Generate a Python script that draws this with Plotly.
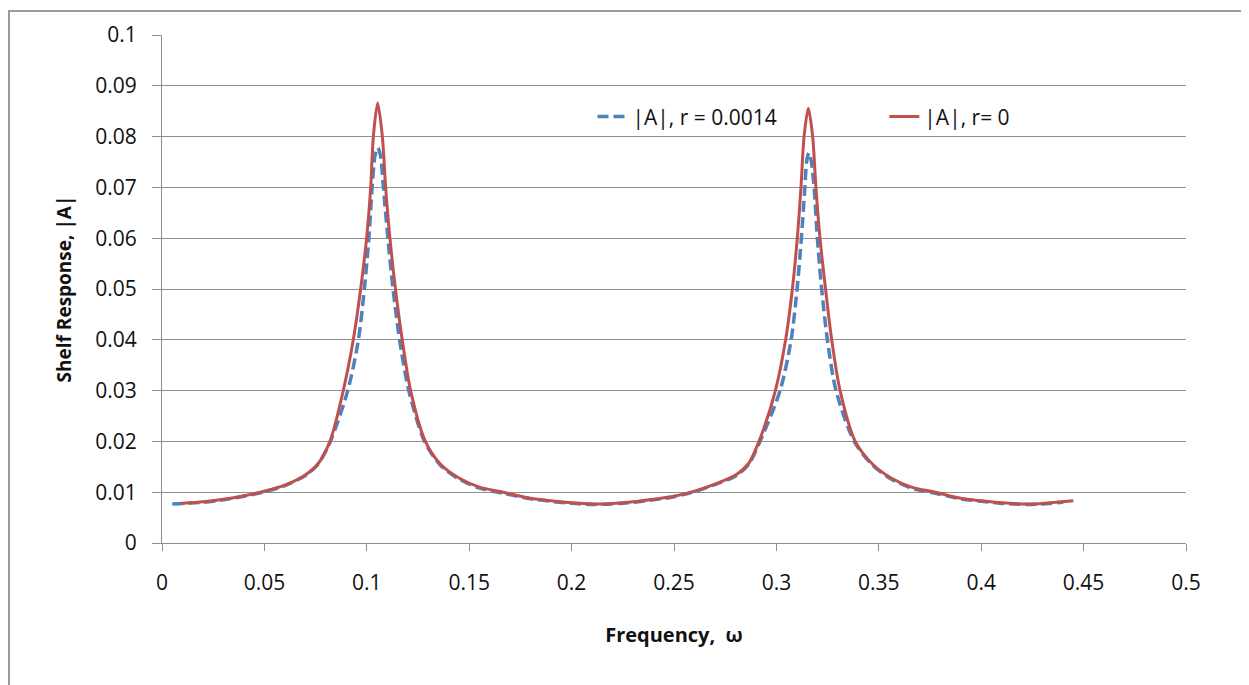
import plotly.graph_objects as go

# Frequency (x) and |A| (y)
red_x = [0.0095, 0.02, 0.03, 0.04, 0.05, 0.06, 0.07, 0.076, 0.082, 0.0885, 0.0934, 0.0970, 0.0999,
         0.1019, 0.1032, 0.1053, 0.1076, 0.1092, 0.1113, 0.1140, 0.1173, 0.1214, 0.1286, 0.136,
         0.145, 0.155, 0.1665, 0.18, 0.19, 0.20, 0.211, 0.22, 0.23, 0.24, 0.25, 0.26, 0.27,
         0.2805, 0.2865, 0.2915, 0.2995, 0.3045, 0.3078, 0.3102, 0.3120, 0.3135, 0.3156, 0.3177,
         0.3193, 0.3213, 0.3240, 0.3270, 0.3311, 0.3385, 0.347, 0.356, 0.366, 0.3775, 0.39,
         0.40, 0.41, 0.422, 0.43, 0.445]
red_y = [0.0078, 0.0081, 0.0086, 0.0093, 0.0102, 0.0114, 0.0134, 0.0155, 0.020, 0.030, 0.040,
         0.050, 0.060, 0.070, 0.080, 0.0866, 0.080, 0.070, 0.060, 0.050, 0.040, 0.030, 0.020,
         0.0155, 0.0128, 0.0110, 0.0100, 0.0088, 0.0083, 0.0079, 0.0077, 0.0078, 0.0081, 0.0086,
         0.0092, 0.0102, 0.0116, 0.0135, 0.0157, 0.020, 0.030, 0.040, 0.050, 0.060, 0.070, 0.080,
         0.0856, 0.080, 0.070, 0.060, 0.050, 0.040, 0.030, 0.020, 0.0155, 0.0128, 0.0110, 0.0100,
         0.0088, 0.0083, 0.0079, 0.0077, 0.0078, 0.0083]

blue_x = [0.005, 0.02, 0.03, 0.04, 0.05, 0.06, 0.07, 0.076, 0.082, 0.0907, 0.0959, 0.0988, 0.1010,
          0.1026, 0.1040, 0.1053, 0.1067, 0.1081, 0.1103, 0.1128, 0.1160, 0.1205, 0.1282, 0.136,
          0.145, 0.155, 0.1665, 0.18, 0.19, 0.20, 0.211, 0.22, 0.23, 0.24, 0.25, 0.26, 0.27,
          0.2805, 0.2865, 0.2920, 0.3018, 0.3072, 0.3101, 0.3122, 0.3139, 0.3148, 0.3159, 0.3170,
          0.3184, 0.3200, 0.3221, 0.3249, 0.3291, 0.3380, 0.347, 0.356, 0.366, 0.3775, 0.39,
          0.40, 0.41, 0.422, 0.43, 0.44]
blue_y = [0.0077, 0.0080, 0.0085, 0.0092, 0.0101, 0.0113, 0.0133, 0.0154, 0.0198, 0.030, 0.040,
          0.050, 0.060, 0.070, 0.0762, 0.0778, 0.0762, 0.070, 0.060, 0.050, 0.040, 0.030, 0.020,
          0.0153, 0.0126, 0.0108, 0.0098, 0.0087, 0.0082, 0.0078, 0.0076, 0.0077, 0.0080, 0.0085,
          0.0091, 0.0101, 0.0115, 0.0133, 0.0155, 0.020, 0.030, 0.040, 0.050, 0.060, 0.070, 0.0752,
          0.0768, 0.0752, 0.070, 0.060, 0.050, 0.040, 0.030, 0.020, 0.0153, 0.0126, 0.0108, 0.0098,
          0.0087, 0.0082, 0.0078, 0.0076, 0.0077, 0.0080]

blue_name = "|A|, r = 0.0014"
red_name = "|A|, r= 0"
x_title = "<b>Frequency,\u00a0\u00a0ω</b>"
y_title = "<b>Shelf Response, |A|</b>"

FONT = "Open Sans"
GRID = "#8f8f8f"

fig = go.Figure()
fig.add_trace(go.Scatter(
    x=blue_x, y=blue_y, mode="lines", name=blue_name, legend="legend", showlegend=True,
    line=dict(color="#4F81BD", width=3.5, dash="11px,5px", shape="spline", smoothing=0.8),
))
fig.add_trace(go.Scatter(
    x=red_x, y=red_y, mode="lines", name=red_name, legend="legend2", showlegend=True,
    line=dict(color="#C0504D", width=3, shape="spline", smoothing=0.8),
))

fig.update_layout(
    width=1241, height=677,
    margin=dict(l=154, r=63, t=25, b=142),
    paper_bgcolor="white", plot_bgcolor="white",
    showlegend=True,
    font=dict(family=FONT, size=21, color="#111111"),
    legend=dict(x=0.4204, y=0.839, xanchor="left", yanchor="middle",
                bgcolor="rgba(0,0,0,0)", font=dict(size=21), visible=True),
    legend2=dict(x=0.7054, y=0.839, xanchor="left", yanchor="middle",
                 bgcolor="rgba(0,0,0,0)", font=dict(size=21), visible=True),
    shapes=[dict(type="rect", xref="paper", yref="paper",
                 x0=-0.1494, x1=1.0596, y0=-0.35, y1=1.047,
                 line=dict(color="#9a9a9a", width=2), layer="below")],
)
fig.update_xaxes(
    range=[0, 0.5], dtick=0.05, tick0=0, showgrid=False,
    showline=True, linecolor=GRID, linewidth=1,
    ticks="outside", ticklen=7, tickcolor=GRID,
    ticklabelstandoff=14, zeroline=False,
    title=dict(text=x_title, font=dict(size=20), standoff=32),
)
fig.update_yaxes(
    range=[0, 0.1], dtick=0.01, tick0=0, showgrid=True, gridcolor=GRID, gridwidth=1,
    showline=True, linecolor=GRID, linewidth=1,
    ticks="outside", ticklen=9, tickcolor=GRID,
    ticklabelstandoff=11, zeroline=False,
    title=dict(text=y_title, font=dict(size=19), standoff=18),
)

fig.write_html("out.html")
